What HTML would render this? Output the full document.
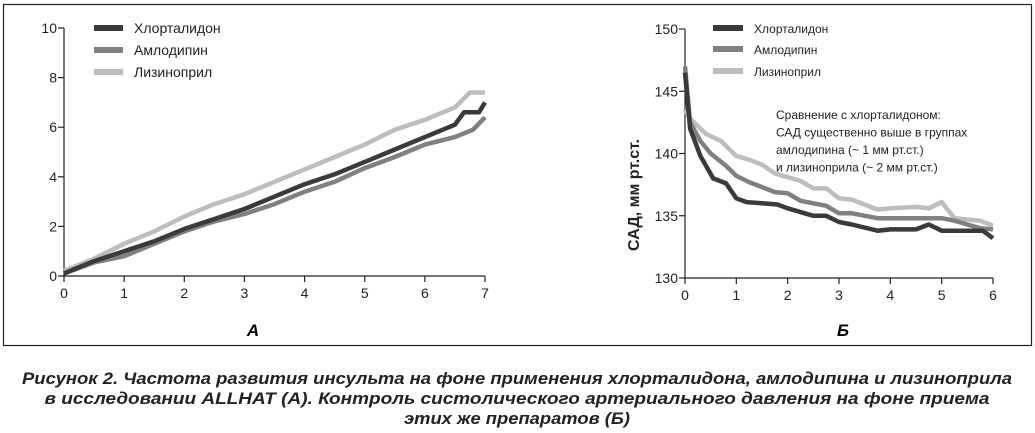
<!DOCTYPE html>
<html><head><meta charset="utf-8"><style>
body{margin:0;background:#fff;}
svg{display:block;font-family:"Liberation Sans",sans-serif;}
</style></head><body>
<svg id="fig" width="1035" height="433" viewBox="0 0 1035 433">
<rect x="3.5" y="4.5" width="1028" height="341" fill="none" stroke="#222" stroke-width="1.2"/>
<g id="chartA"></g>
<g id="chartB"></g>
<text x="253" y="336" font-size="17" font-weight="bold" font-style="italic" text-anchor="middle">А</text>
<text x="843" y="336" font-size="17" font-weight="bold" font-style="italic" text-anchor="middle">Б</text>
<g font-size="17" font-weight="bold" font-style="italic" text-anchor="middle" fill="#222">
<text x="517" y="384" textLength="990" lengthAdjust="spacingAndGlyphs">Рисунок 2. Частота развития инсульта на фоне применения хлорталидона, амлодипина и лизиноприла</text>
<text x="517" y="404" textLength="945" lengthAdjust="spacingAndGlyphs">в исследовании ALLHAT (А). Контроль систолического артериального давления на фоне приема</text>
<text x="517" y="424" textLength="226" lengthAdjust="spacingAndGlyphs">этих же препаратов (Б)</text>
</g>
</svg>
<script>
const NS="http://www.w3.org/2000/svg";
// Chart A data
const aX=[0,0.5,1,1.5,2,2.5,3,3.5,4,4.5,5,5.5,6,6.5,6.65,6.9,7];
const aChl=[0.1,0.6,1.0,1.4,1.9,2.3,2.7,3.2,3.7,4.1,4.6,5.1,5.6,6.1,6.6,6.6,7.0];
const aAmlX=[0,0.5,1,1.5,2,2.5,3,3.5,4,4.5,5,5.5,6,6.5,6.8,7];
const aAml=[0.1,0.55,0.8,1.3,1.8,2.2,2.5,2.9,3.4,3.8,4.35,4.8,5.3,5.6,5.9,6.4];
const aLisX=[0,0.5,1,1.5,2,2.5,3,3.5,4,4.5,5,5.5,6,6.5,6.75,7];
const aLis=[0.2,0.7,1.3,1.8,2.4,2.9,3.3,3.8,4.3,4.8,5.3,5.9,6.3,6.8,7.4,7.4];
const aXTicks=[0,1,2,3,4,5,6,7];
const aYTicks=[0,2,4,6,8,10];
// Chart B data
const bChlX=[0,0.1,0.3,0.55,0.8,1,1.2,1.5,1.8,2,2.5,2.75,3,3.25,3.75,4,4.5,4.75,5,5.5,5.8,6];
const bChl=[146.5,142,139.8,138,137.6,136.4,136.1,136,135.9,135.6,135,135,134.5,134.3,133.8,133.9,133.9,134.3,133.8,133.8,133.8,133.2];
const bAmlX=[0,0.1,0.3,0.5,0.8,1,1.25,1.5,1.75,2,2.25,2.5,2.75,3,3.25,3.75,4,4.5,5,5.25,5.5,5.75,6];
const bAml=[147,142.5,141,140,139,138.2,137.7,137.3,136.9,136.8,136.2,136,135.8,135.2,135.2,134.8,134.8,134.8,134.8,134.6,134.3,134,133.9];
const bLisX=[0,0.1,0.4,0.7,1,1.25,1.5,1.75,2,2.25,2.5,2.75,3,3.25,3.75,4,4.5,4.75,5,5.25,5.5,5.75,6];
const bLis=[143.5,142.8,141.6,141,139.8,139.5,139.1,138.4,138.1,137.8,137.2,137.2,136.4,136.3,135.5,135.6,135.7,135.6,136.1,134.8,134.7,134.6,134.2];
const bXTicks=[0,1,2,3,4,5,6];
const bYTicks=[130,135,140,145,150];
const names=["Хлорталидон","Амлодипин","Лизиноприл"];
const colors=["#3a3a3a","#808080","#bdbdbd"];

function el(parent,tag,attrs,text){const e=document.createElementNS(NS,tag);for(const k in attrs)e.setAttribute(k,attrs[k]);if(text!==undefined)e.textContent=text;parent.appendChild(e);return e;}

function drawChart(g,cfg){
  const sx=v=>cfg.x0+(v-cfg.xmin)/(cfg.xmax-cfg.xmin)*(cfg.x1-cfg.x0);
  const sy=v=>cfg.y0-(v-cfg.ymin)/(cfg.ymax-cfg.ymin)*(cfg.y0-cfg.y1);
  const ax=el(g,"path",{d:`M${cfg.x0},${cfg.y1} V${cfg.y0} H${cfg.x1}`,stroke:"#222","stroke-width":"1.2",fill:"none"});
  
  
  cfg.xt.forEach(t=>{
    const l=el(g,"line",{x1:sx(t),x2:sx(t),y1:cfg.y0,y2:cfg.y0+6,stroke:"#222","stroke-width":"1.2"});
    
    
    const tx=el(g,"text",{x:sx(t),y:cfg.y0+22,"font-size":cfg.fs,"text-anchor":"middle",fill:"#222"},String(t));
    
    
  });
  cfg.yt.forEach(t=>{
    const l=el(g,"line",{x1:cfg.x0-6,x2:cfg.x0,y1:sy(t),y2:sy(t),stroke:"#222","stroke-width":"1.2"});
    
    
    const tx=el(g,"text",{x:cfg.x0-7,y:sy(t)+5,"font-size":cfg.fs,"text-anchor":"end",fill:"#222"},String(t));
    
    
  });
  cfg.series.slice().reverse().forEach(s=>{
    const d=s.x.map((v,i)=>(i?"L":"M")+sx(v).toFixed(1)+","+sy(s.y[i]).toFixed(1)).join(" ");
    const p=el(g,"path",{d:d,stroke:s.c,"stroke-width":cfg.lw,fill:"none","stroke-linejoin":"round"});
    
    
  });
  names.forEach((n,i)=>{
    const ly=cfg.ly[i];
    const l=el(g,"line",{x1:cfg.lx,x2:cfg.lx+cfg.lw2,y1:ly,y2:ly,stroke:colors[i],"stroke-width":"6"});
    
    
    const t=el(g,"text",{x:cfg.lx+cfg.lw2+11,y:ly+5,"font-size":cfg.lfs,fill:"#222"},n);
    
    
  });
}
drawChart(document.getElementById("chartA"),{x0:64,x1:485,y0:276,y1:28,xmin:0,xmax:7,ymin:0,ymax:10,xt:aXTicks,yt:aYTicks,fs:14,lw:4.5,lx:94,lw2:29,ly:[28,50,72],lfs:14,
 series:[{x:aX,y:aChl,c:colors[0],n:"chlortalidone"},{x:aAmlX,y:aAml,c:colors[1],n:"amlodipine"},{x:aLisX,y:aLis,c:colors[2],n:"lisinopril"}]});
drawChart(document.getElementById("chartB"),{x0:685,x1:993,y0:278,y1:29,xmin:0,xmax:6,ymin:130,ymax:150,xt:bXTicks,yt:bYTicks,fs:14,lw:4.5,lx:713,lw2:30,ly:[28,49,71],lfs:12,
 series:[{x:bChlX,y:bChl,c:colors[0],n:"chlortalidone"},{x:bAmlX,y:bAml,c:colors[1],n:"amlodipine"},{x:bLisX,y:bLis,c:colors[2],n:"lisinopril"}]});
const gb=document.getElementById("chartB");
const yt=el(gb,"text",{x:0,y:0,transform:"translate(639,195) rotate(-90)","font-size":"16","font-weight":"bold","text-anchor":"middle",fill:"#222"},"САД, мм рт.ст.");


["Сравнение с хлорталидоном:","САД существенно выше в группах","амлодипина (~ 1 мм рт.ст.)","и лизиноприла (~ 2 мм рт.ст.)"].forEach((s,i)=>{
  const t=el(gb,"text",{x:776,y:119+i*17.5,"font-size":"12",fill:"#222"},s);
  
  
});
</script>
</body></html>
